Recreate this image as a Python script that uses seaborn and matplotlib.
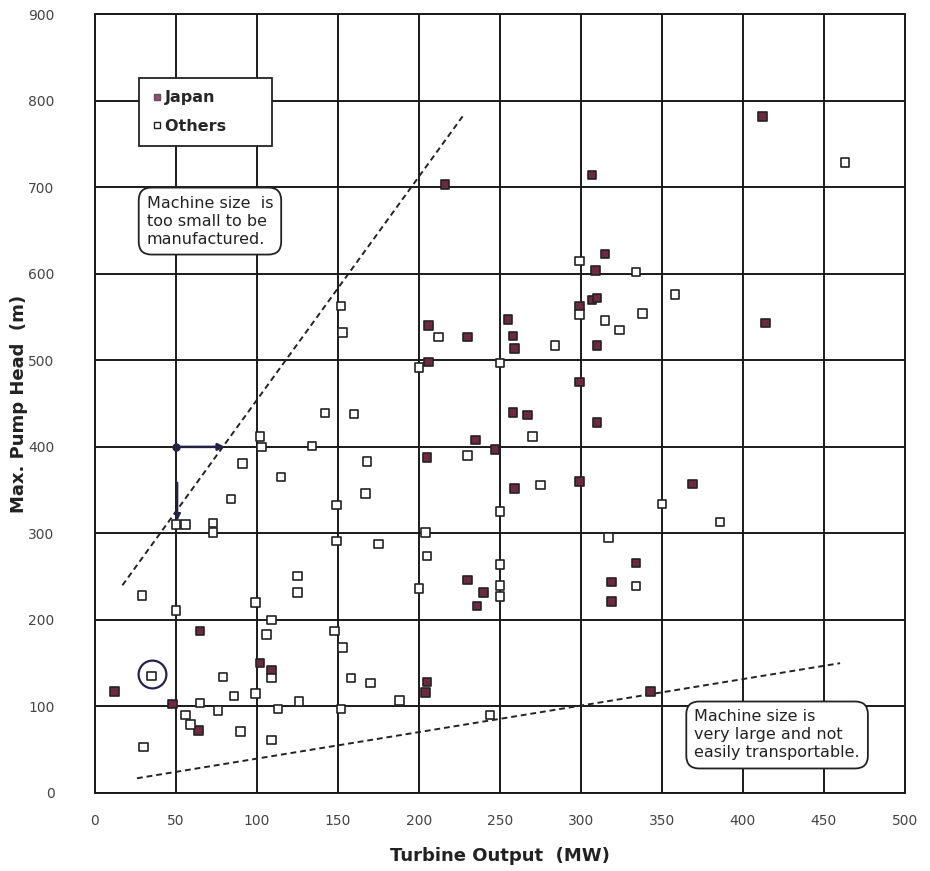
import matplotlib
matplotlib.use("Agg")
import matplotlib.pyplot as plt
import seaborn as sns
import pandas as pd
from matplotlib.lines import Line2D

# ---- data ----
japan_x = [12, 48, 64, 65, 102, 109, 205, 204, 230, 240, 236, 216, 307, 412, 414,
           315, 309, 307, 310, 299, 310, 255, 258, 259, 206, 230, 206, 299, 310,
           258, 267, 235, 247, 205, 259, 299, 369, 334, 319, 319, 343]
japan_y = [117, 103, 72, 187, 150, 142, 128, 116, 246, 232, 216, 703, 714, 782, 543,
           623, 604, 570, 572, 563, 517, 547, 528, 514, 540, 527, 498, 475, 428,
           440, 437, 408, 397, 388, 352, 360, 357, 266, 244, 221, 117]

others_x = [299, 334, 358, 299, 315, 324, 338, 284, 250, 212, 200, 270, 463, 152,
            153, 142, 160, 102, 103, 134, 91, 115, 168, 230, 167, 84, 149, 250, 73,
            73, 50, 56, 149, 175, 204, 205, 250, 250, 250, 200, 275, 350, 386, 317,
            334, 29, 50, 99, 125, 125, 109, 106, 148, 153, 109, 79, 86, 99, 113,
            126, 152, 158, 170, 188, 56, 59, 65, 76, 90, 109, 30, 244, 35]
others_y = [615, 602, 576, 553, 546, 535, 554, 517, 497, 527, 492, 412, 729, 563,
            532, 439, 438, 412, 400, 401, 381, 365, 383, 390, 346, 340, 333, 325, 312,
            301, 310, 310, 291, 288, 301, 274, 264, 240, 227, 236, 356, 334, 313, 295,
            239, 228, 211, 220, 251, 232, 200, 183, 187, 168, 133, 134, 112, 115, 97,
            106, 97, 133, 127, 107, 90, 79, 104, 95, 71, 61, 53, 90, 135]

groups = ["Japan", "Others"]
x_ticks = [0, 50, 100, 150, 200, 250, 300, 350, 400, 450, 500]
y_ticks = [0, 100, 200, 300, 400, 500, 600, 700, 800, 900]

upper_line_x = [17, 227]
upper_line_y = [240, 782]
lower_line_x = [26, 460]
lower_line_y = [17, 150]

df = pd.DataFrame({
    "Turbine Output (MW)": japan_x + others_x,
    "Max. Pump Head (m)": japan_y + others_y,
    "Group": [groups[0]] * len(japan_x) + [groups[1]] * len(others_x),
})

sns.set_style("white")
plt.rcParams['font.family'] = ['DejaVu Sans']

fig = plt.figure(figsize=(9.3, 8.71), dpi=100)
ax = fig.add_axes([0.102, 0.0896, 0.871, 0.894])

# grid
for xv in x_ticks:
    ax.axvline(xv, color="#1a1a1a", lw=1.4, zorder=1)
for yv in y_ticks:
    ax.axhline(yv, color="#1a1a1a", lw=1.4, zorder=1)

# dashed boundary lines
ax.plot(upper_line_x, upper_line_y, ls=(0, (3, 2)), color="#222222", lw=1.4, zorder=2)
ax.plot(lower_line_x, lower_line_y, ls=(0, (3, 2)), color="#222222", lw=1.4, zorder=2)

# annotations: arrows and circle
ax.plot([50], [400], marker="o", ms=5, color="#222244", zorder=3)
ax.annotate("", xy=(82, 400), xytext=(50, 400),
            arrowprops=dict(arrowstyle="-|>", color="#222244", lw=1.8), zorder=3)
ax.annotate("", xy=(51, 312), xytext=(51, 362),
            arrowprops=dict(arrowstyle="-|>", color="#222244", lw=1.2), zorder=3)
ax.plot([35], [137], marker="o", ms=20, mfc="none", mec="#2a2050", mew=1.6, zorder=3)

palette = {"Japan": "#6e2840", "Others": "white"}
sns.scatterplot(data=df, x="Turbine Output (MW)", y="Max. Pump Head (m)",
                hue="Group", palette=palette, marker="s", s=38,
                edgecolor="#222222", linewidth=1.2, ax=ax, zorder=4, legend=False)

# legend
handles = [Line2D([], [], marker="s", ls="none", ms=5, mfc="#a04870", mec="#555555", label="Japan       "),
           Line2D([], [], marker="s", ls="none", ms=5, mfc="white", mec="#222222", label="Others      ")]
leg = ax.legend(handles=handles, loc="upper left", bbox_to_anchor=(0.055, 0.918),
                frameon=True, fancybox=False, edgecolor="#222222", framealpha=1,
                handletextpad=0.15, borderpad=0.75, labelspacing=0.85, handlelength=0.7,
                borderaxespad=0, prop={"weight": "bold", "size": 11.5})
leg.get_frame().set_linewidth(1.3)
leg.set_zorder(6)

box = dict(boxstyle="round,pad=0.5,rounding_size=0.8", fc="white", ec="#222222", lw=1.3)
ax.text(32, 661, "Machine size  is\ntoo small to be\nmanufactured.", ha="left", va="center",
        fontsize=11.5, color="#222222", bbox=box, zorder=6, linespacing=1.25)
ax.text(370, 67, "Machine size is\nvery large and not\neasily transportable.", ha="left",
        va="center", fontsize=11.5, color="#222222", bbox=box, zorder=6, linespacing=1.25)

ax.set_xlim(0, 500)
ax.set_ylim(0, 900)
ax.set_xticks(x_ticks)
ax.set_yticks(y_ticks)
ax.tick_params(axis="x", labelsize=10, colors="#444444", length=0, pad=15)
ax.tick_params(axis="y", labelsize=10, colors="#444444", length=0, pad=29)
ax.set_xlabel("Turbine Output  (MW)", fontsize=13, fontweight="bold", color="#222222", labelpad=14)
ax.set_ylabel("Max. Pump Head  (m)", fontsize=13, fontweight="bold", color="#222222")
ax.yaxis.set_label_coords(-0.083, 0.5)
for sp in ax.spines.values():
    sp.set_color("#1a1a1a")
    sp.set_linewidth(1.4)

fig.savefig("out.png", dpi=100)
